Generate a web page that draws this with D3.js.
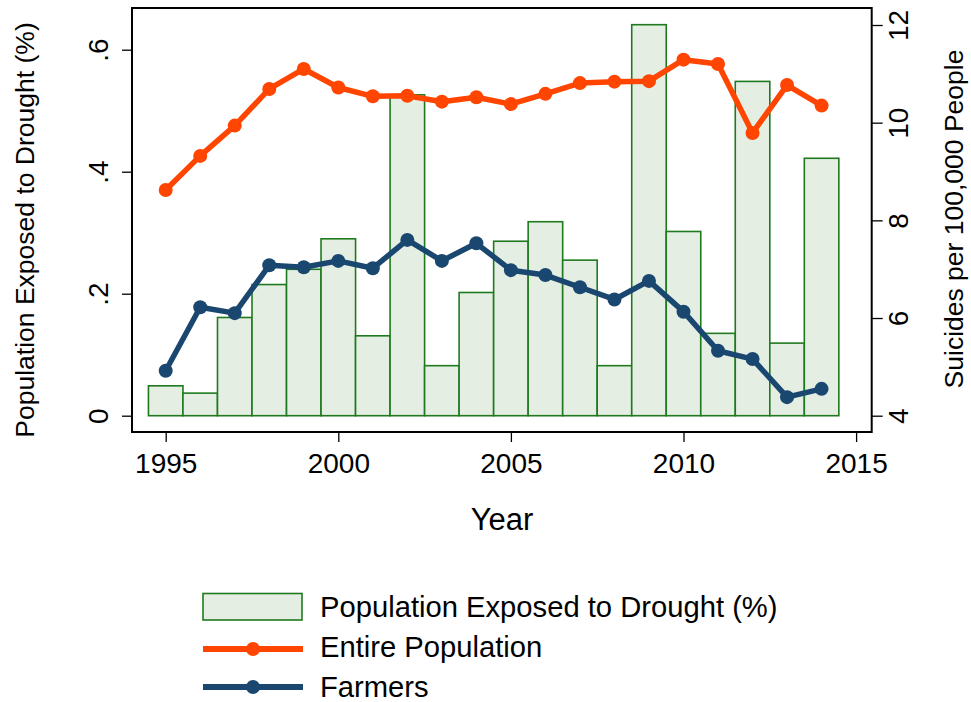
<!DOCTYPE html>
<html>
<head>
<meta charset="utf-8">
<script src="https://cdn.jsdelivr.net/npm/d3@7"></script>
<style>
  html, body { margin: 0; padding: 0; background: #fff; }
  svg { display: block; }
  text { font-family: "Liberation Sans", Arial, Helvetica, sans-serif; fill: #000; }
</style>
</head>
<body>
<svg id="chart" width="971" height="702"></svg>
<script>
const years = [1995,1996,1997,1998,1999,2000,2001,2002,2003,2004,2005,2006,2007,2008,2009,2010,2011,2012,2013,2014];
const drought = [0.049,0.037,0.161,0.215,0.240,0.290,0.131,0.526,0.082,0.202,0.286,0.318,0.255,0.082,0.641,0.302,0.135,0.548,0.119,0.422];
const entirePop = [8.62,9.32,9.94,10.69,11.10,10.72,10.54,10.55,10.43,10.52,10.38,10.59,10.81,10.84,10.85,11.29,11.20,9.79,10.77,10.35];
const farmers = [4.92,6.22,6.10,7.08,7.04,7.17,7.02,7.60,7.17,7.53,6.98,6.88,6.63,6.38,6.76,6.13,5.33,5.16,4.38,4.55];
const xTicks = [1995,2000,2005,2010,2015];
const leftTicks = [0,0.2,0.4,0.6];
const leftTickLabels = ["0",".2",".4",".6"];
const rightTicks = [4,6,8,10,12];
const legendLabels = ["Population Exposed to Drought (%)","Entire Population","Farmers"];

const orange = "#ff4500", navy = "#1a476f", barFill = "#e4eee3", barStroke = "#1f7a1f";

const svg = d3.select("#chart");
const L = 132, R = 871.7, T = 8, B = 432;

const x = d3.scaleLinear().domain([1995, 2000]).range([165.7, 338.3]);
const yL = d3.scaleLinear().domain([0, 0.6]).range([415.7, 49.7]);
const yR = d3.scaleLinear().domain([4, 12]).range([415.7, 25]);

// bars
svg.append("g").selectAll("rect").data(years).join("rect")
  .attr("x", (d) => x(d - 0.5))
  .attr("width", (d) => x(d + 0.5) - x(d - 0.5))
  .attr("y", (d, i) => yL(drought[i]))
  .attr("height", (d, i) => yL(0) - yL(drought[i]))
  .attr("fill", barFill).attr("stroke", barStroke).attr("stroke-width", 1.6);

// lines
function drawSeries(vals, color) {
  const line = d3.line().x((d, i) => x(years[i])).y((d) => yR(d));
  svg.append("path").datum(vals).attr("d", line)
    .attr("fill", "none").attr("stroke", color).attr("stroke-width", 5.5)
    .attr("stroke-linejoin", "round");
  svg.append("g").selectAll("circle").data(vals).join("circle")
    .attr("cx", (d, i) => x(years[i])).attr("cy", (d) => yR(d))
    .attr("r", 7).attr("fill", color);
}
drawSeries(entirePop, orange);
drawSeries(farmers, navy);

// frame
svg.append("rect").attr("x", L).attr("y", T).attr("width", R - L).attr("height", B - T)
  .attr("fill", "none").attr("stroke", "#000").attr("stroke-width", 2);

// x axis
const xAxis = d3.axisBottom(x).tickValues(xTicks).tickFormat(d3.format("d")).tickSize(10).tickPadding(6);
const gx = svg.append("g").attr("transform", `translate(0,${B})`).call(xAxis);
gx.select(".domain").remove();
gx.selectAll(".tick line").attr("stroke", "#000").attr("stroke-width", 1.3);
gx.selectAll(".tick text").attr("font-size", 28).attr("font-family", "Liberation Sans, Arial, sans-serif")
  .attr("fill", "#000").attr("dy", null).attr("y", 40.5);

// left axis
const yAxisL = d3.axisLeft(yL).tickValues(leftTicks).tickFormat((d, i) => leftTickLabels[i]).tickSize(10);
const gl = svg.append("g").attr("transform", `translate(${L},0)`).call(yAxisL);
gl.select(".domain").remove();
gl.selectAll(".tick line").attr("stroke", "#000").attr("stroke-width", 1.3);
gl.selectAll(".tick text").attr("font-size", 28).attr("font-family", "Liberation Sans, Arial, sans-serif")
  .attr("fill", "#000").attr("x", null).attr("dy", null)
  .attr("text-anchor", "middle").attr("transform", "translate(-24,0) rotate(-90)");

// right axis
const yAxisR = d3.axisRight(yR).tickValues(rightTicks).tickFormat(d3.format("d")).tickSize(11);
const gr = svg.append("g").attr("transform", `translate(${R},0)`).call(yAxisR);
gr.select(".domain").remove();
gr.selectAll(".tick line").attr("stroke", "#000").attr("stroke-width", 1.3);
gr.selectAll(".tick text").attr("font-size", 28).attr("font-family", "Liberation Sans, Arial, sans-serif")
  .attr("fill", "#000").attr("x", null).attr("dy", null)
  .attr("text-anchor", "middle").attr("transform", "translate(36,0) rotate(-90)");

// axis titles
svg.append("text").attr("transform", "translate(34,230) rotate(-90)")
  .attr("text-anchor", "middle").attr("font-size", 26.5).text("Population Exposed to Drought (%)");
svg.append("text").attr("transform", "translate(963,219) rotate(-90)")
  .attr("text-anchor", "middle").attr("font-size", 26.5).text("Suicides per 100,000 People");
svg.append("text").attr("x", 502).attr("y", 530).attr("text-anchor", "middle")
  .attr("font-size", 31).text("Year");

// legend
const lg = svg.append("g");
lg.append("rect").attr("x", 203).attr("y", 593.5).attr("width", 99).attr("height", 26.5)
  .attr("fill", barFill).attr("stroke", barStroke).attr("stroke-width", 1.6);
[[orange, 649], [navy, 687]].forEach(([c, yy]) => {
  lg.append("line").attr("x1", 203).attr("x2", 303).attr("y1", yy).attr("y2", yy)
    .attr("stroke", c).attr("stroke-width", 6);
  lg.append("circle").attr("cx", 253).attr("cy", yy).attr("r", 7).attr("fill", c);
});
const ly = [617, 657, 697];
legendLabels.forEach((t, i) => {
  lg.append("text").attr("x", 320).attr("y", ly[i]).attr("font-size", 29.2).text(t);
});
</script>
</body>
</html>
